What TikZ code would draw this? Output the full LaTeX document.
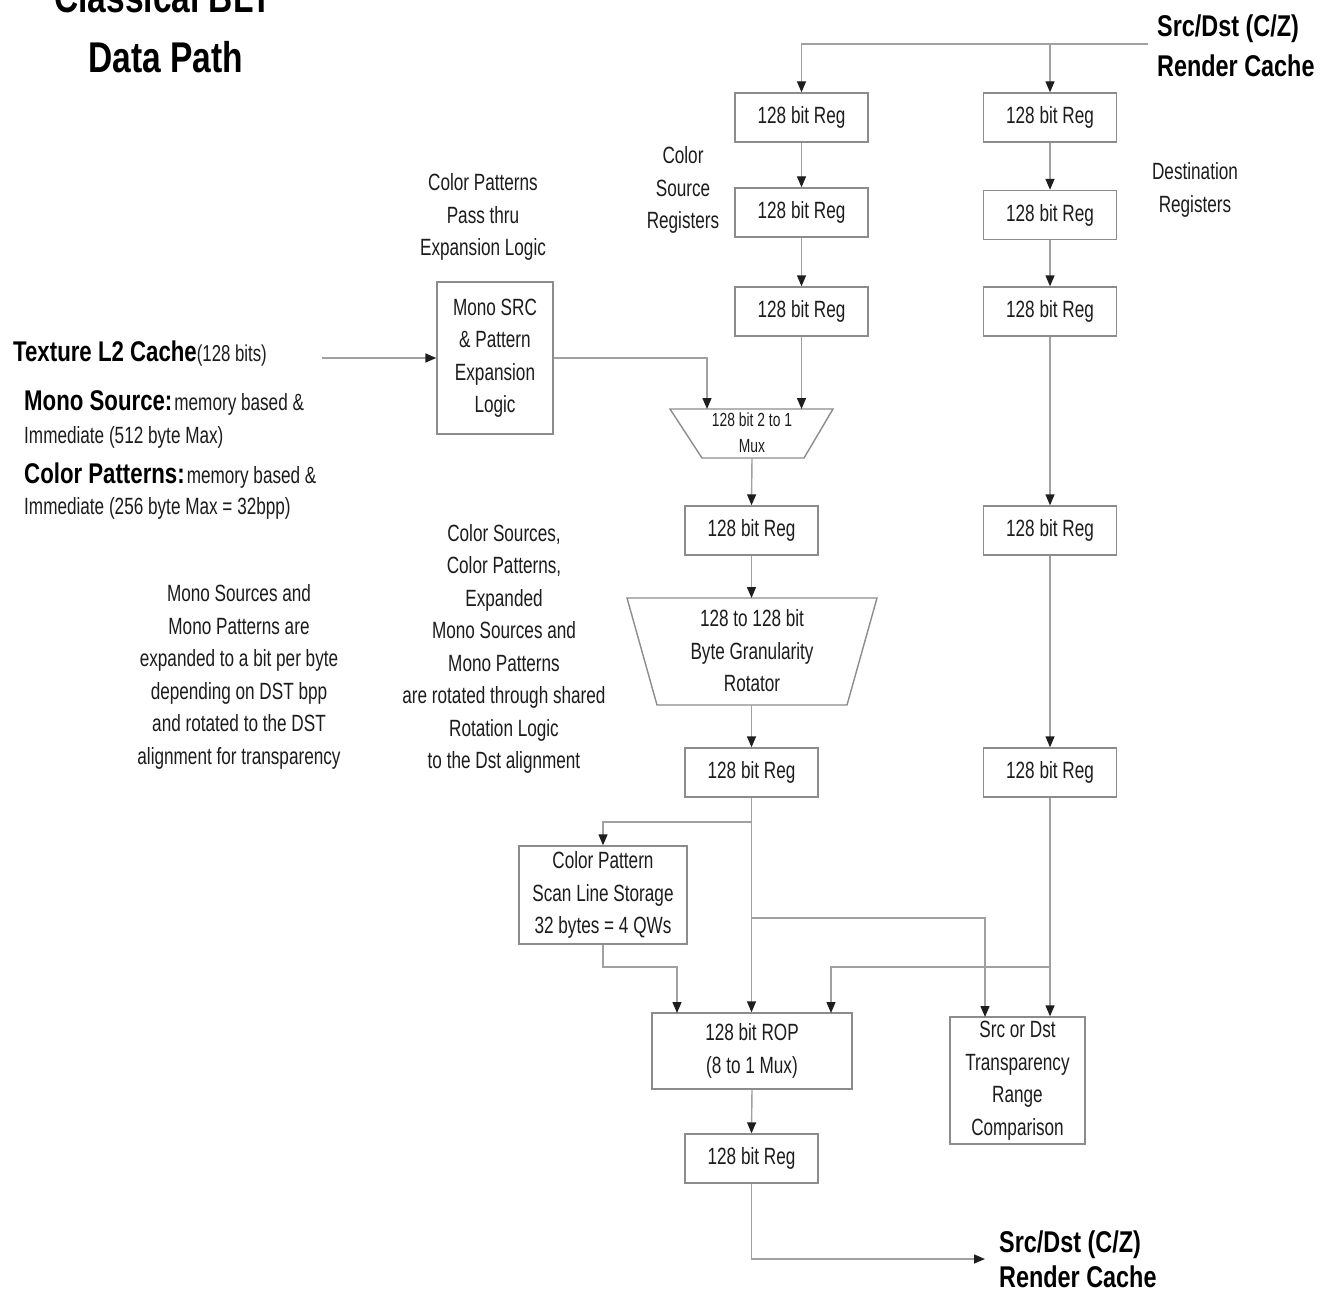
\documentclass[tikz,border=0pt]{standalone}
\usepackage{fontspec}
\setmainfont{Liberation Sans}[FakeStretch=0.73]
\newfontfamily\hdfont{Liberation Sans}[FakeStretch=0.78]
\usetikzlibrary{arrows.meta}
\definecolor{linegray}{HTML}{A0A0A0}
\definecolor{boxgray}{HTML}{8C8C8C}
\definecolor{tipgray}{HTML}{1E1E1E}
\definecolor{txt}{HTML}{1C1C1C}
\newcommand{\fsreg}{\fontsize{23.5}{32.5}\selectfont}
\newcommand{\fsmux}{\fontsize{19}{26}\selectfont}
\newcommand{\fsbig}{\hdfont\bfseries\fontsize{30}{40}\selectfont}
\newcommand{\fsmid}{\hdfont\bfseries\fontsize{28.5}{30}\selectfont}
\tikzset{
  wire/.style={draw=linegray, line width=1.4pt},
  arr/.style={wire, -{Triangle[width=9pt,length=11pt,color=tipgray]}},
  boxst/.style={draw=boxgray, line width=1.4pt, inner sep=0pt, text=txt, align=center, font=\fsreg},
  regbox/.style={boxst, minimum width=133pt, minimum height=49pt},
  lbl/.style={align=center, inner sep=0pt, text=txt, font=\fsreg},
  trap/.style={draw=boxgray, line width=1.4pt},
}
\begin{document}
\begin{tikzpicture}[x=1pt,y=-1pt]
\useasboundingbox (0,0) rectangle (1325,1292);
\fill[white] (0,0) rectangle (1325,1292);

% titles
\node[anchor=base, inner sep=0pt, font=\hdfont\bfseries\fontsize{43}{50}\selectfont] (t1) at (163,13) {Classical BLT};
\node[anchor=base, inner sep=0pt, font=\hdfont\bfseries\fontsize{43}{50}\selectfont] (t2) at (166,73) {Data Path};

\node[anchor=base west, inner sep=0pt, font=\fsbig] (rc1) at (1157,37) {Src/Dst (C/Z)};
\node[anchor=base west, inner sep=0pt, font=\fsbig] (rc2) at (1157,77) {Render Cache};
\node[anchor=base west, inner sep=0pt, font=\fsbig] (rc3) at (999,1252) {Src/Dst (C/Z)};
\node[anchor=base west, inner sep=0pt, font=\fsbig] (rc4) at (999,1287) {Render Cache};

% left texts
\node[anchor=base west, inner sep=0pt] (tex) at (13,361) {{\fsmid Texture L2 Cache}{\color{txt}\fontsize{23}{24}\selectfont(128 bits)}};
\node[anchor=base west, inner sep=0pt] (ms1) at (24,410) {{\fsmid Mono Source:}\kern2pt{\color{txt}\fsreg memory based \&}};
\node[anchor=base west, inner sep=0pt, text=txt, font=\fsreg] (ms2) at (24,443) {Immediate (512 byte Max)};
\node[anchor=base west, inner sep=0pt] (cp1) at (24,483) {{\fsmid Color Patterns:}\kern2pt{\color{txt}\fsreg memory based \&}};
\node[anchor=base west, inner sep=0pt, text=txt, font=\fsreg] (cp2) at (24,514) {Immediate (256 byte Max = 32bpp)};

\node[lbl] (note1) at (239,677) {Mono Sources and\\Mono Patterns are\\expanded to a bit per byte\\depending on DST bpp\\and rotated to the DST\\alignment for transparency};
\node[lbl] (note2) at (504,649) {Color Sources,\\Color Patterns,\\Expanded\\Mono Sources and\\Mono Patterns\\are rotated through shared\\Rotation Logic\\to the Dst alignment};
\node[lbl] (note3) at (483,217) {Color Patterns\\Pass thru\\Expansion Logic};
\node[lbl] (csr) at (683,190) {Color\\Source\\Registers};
\node[lbl] (dr) at (1195,190) {Destination\\Registers};

% registers
\node[regbox] (s1) at (801.5,117.5) {128 bit Reg};
\node[regbox] (s2) at (801.5,212.5) {128 bit Reg};
\node[regbox] (s3) at (801.5,311.5) {128 bit Reg};
\node[regbox] (d1) at (1050,117.5) {128 bit Reg};
\node[regbox] (d2) at (1050,215) {128 bit Reg};
\node[regbox] (d3) at (1050,311.5) {128 bit Reg};
\node[regbox] (d4) at (1050,530.5) {128 bit Reg};
\node[regbox] (d5) at (1050,772.5) {128 bit Reg};
\node[regbox] (r4) at (751.5,530.5) {128 bit Reg};
\node[regbox] (r5) at (751.5,772.5) {128 bit Reg};
\node[regbox] (r6) at (751.5,1158.5) {128 bit Reg};

\node[boxst, minimum width=116pt, minimum height=152pt] (mono) at (495,358) {Mono SRC\\\& Pattern\\Expansion\\Logic};
\node[boxst, minimum width=168pt, minimum height=98pt] (cps) at (603,895) {Color Pattern\\Scan Line Storage\\32 bytes = 4 QWs};
\node[boxst, minimum width=200pt, minimum height=76pt] (rop) at (752,1051) {128 bit ROP\\(8 to 1 Mux)};
\node[boxst, minimum width=135pt, minimum height=127pt] (sd) at (1017.5,1080.5) {Src or Dst\\Transparency\\Range\\Comparison};

% mux and rotator
\draw[trap] (670,409) -- (833,409) -- (804,458) -- (702,458) -- cycle;
\node[lbl, font=\fsmux] (mux) at (752,433) {128 bit 2 to 1\\Mux};
\coordinate (muxtop) at (752,409);
\coordinate (muxbot) at (752,458);
\draw[trap] (627,598) -- (877,598) -- (847,705) -- (657,705) -- cycle;
\node[lbl] (rot) at (752,651) {128 to 128 bit\\Byte Granularity\\Rotator};
\coordinate (rottop) at (751.5,598);
\coordinate (rotbot) at (751.5,705);

% coordinates
\coordinate (cin) at (1148,44);
\coordinate (tex0) at (322,358);
\coordinate (out1) at (985,1259);

% connectors
\draw[arr] (cin) -| (s1.north);
\draw[arr] (cin -| d1.north) -- (d1.north);
\draw[arr] (s1) -- (s2);
\draw[arr] (s2) -- (s3);
\draw[arr] (d1) -- (d2);
\draw[arr] (d2) -- (d3);
\draw[arr] (d3) -- (d4);
\draw[arr] (d4) -- (d5);
\draw[arr] (tex0) -- (mono.west);
\draw[arr] (mono.east) -| (707,409);
\draw[arr] (s3.south) -- (s3.south |- muxtop);
\draw[arr] (muxbot) -- (r4.north);
\draw[arr] (r4.south) -- (rottop);
\draw[arr] (rotbot) -- (r5.north);
\draw[arr] (r5.south) -- (r5.south |- rop.north);
\draw[arr] (r5.south |- 0,822) -| (cps.north);
\draw[arr] (cps.south) |- (677,967) -- (677,1013);
\draw[arr] (r5.south |- 0,918) -| (985,1017);
\draw[arr] (d5.south) -- (d5.south |- sd.north);
\draw[arr] (d5.south |- 0,967) -| (831,1013);
\draw[arr] (rop.south) -- (r6.north);
\draw[arr] (r6.south) |- (out1);
\end{tikzpicture}
\end{document}
